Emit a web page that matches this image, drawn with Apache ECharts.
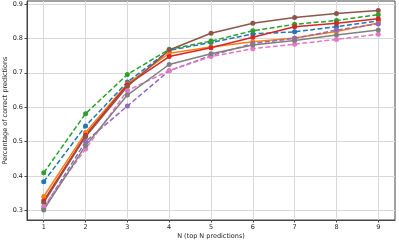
<!DOCTYPE html>
<html><head><meta charset="utf-8">
<script src="https://cdn.jsdelivr.net/npm/echarts@6/dist/echarts.min.js"></script>
<style>html,body{margin:0;padding:0;background:#fff}#c{width:399px;height:245px}</style>
</head><body><div id="c"></div>
<script>
const xValues = [1, 2, 3, 4, 5, 6, 7, 8, 9];
const xTicks = [1, 2, 3, 4, 5, 6, 7, 8, 9];
const yTicks = [0.3, 0.4, 0.5, 0.6, 0.7, 0.8, 0.9];
const xAxisName = 'N (top N predictions)';
const yAxisName = 'Percentage of correct predictions';

const blueValues   = [0.383, 0.545, 0.673, 0.765, 0.788, 0.813, 0.819, 0.834, 0.851];
const orangeValues = [0.340, 0.526, 0.668, 0.757, 0.775, 0.790, 0.801, 0.820, 0.845];
const greenValues  = [0.409, 0.581, 0.695, 0.768, 0.792, 0.822, 0.841, 0.852, 0.869];
const redValues    = [0.328, 0.518, 0.665, 0.747, 0.773, 0.803, 0.834, 0.844, 0.857];
const purpleValues = [0.305, 0.500, 0.603, 0.706, 0.750, 0.785, 0.800, 0.824, 0.842];
const brownValues  = [0.322, 0.514, 0.660, 0.766, 0.815, 0.844, 0.861, 0.872, 0.881];
const pinkValues   = [0.311, 0.478, 0.648, 0.706, 0.747, 0.770, 0.783, 0.797, 0.812];
const grayValues   = [0.301, 0.488, 0.635, 0.724, 0.755, 0.781, 0.794, 0.810, 0.824];

const seriesDefs = [
  {values: blueValues,   color: '#1f77b4', dashed: true},
  {values: orangeValues, color: '#ff7f0e', dashed: false},
  {values: greenValues,  color: '#2ca02c', dashed: true},
  {values: redValues,    color: '#d62728', dashed: false},
  {values: purpleValues, color: '#9467bd', dashed: true},
  {values: brownValues,  color: '#8c564b', dashed: false},
  {values: pinkValues,   color: '#e377c2', dashed: true},
  {values: grayValues,   color: '#7f7f7f', dashed: false}
];

const font = 'DejaVu Sans';
const chart = echarts.init(document.getElementById('c'), null, {renderer: 'canvas'});
chart.setOption({
  animation: false,
  backgroundColor: '#fff',
  grid: {left: 27, right: 4, top: 1, bottom: 25, containLabel: false, outerBoundsMode: 'none',
    show: true, borderColor: '#444', borderWidth: 1},
  xAxis: {
    type: 'value', min: 0.6, max: 9.4,
    name: xAxisName, nameLocation: 'middle', nameGap: 13, nameMoveOverlap: false,
    nameTextStyle: {fontFamily: font, fontSize: 6.5, color: '#222'},
    axisLine: {lineStyle: {color: '#444', width: 1}},
    axisTick: {show: true, length: 2.5, customValues: xTicks, lineStyle: {color: '#444'}},
    axisLabel: {customValues: xTicks, fontFamily: font, fontSize: 6.5, color: '#222', margin: 4},
    splitLine: {show: true, lineStyle: {color: '#d8d8d8', width: 1}}
  },
  yAxis: {
    type: 'value', min: 0.2717, max: 0.9087,
    name: yAxisName, nameLocation: 'middle', nameGap: 18, nameMoveOverlap: false,
    nameTextStyle: {fontFamily: font, fontSize: 6.5, color: '#222'},
    axisLine: {show: true, lineStyle: {color: '#444', width: 1}},
    axisTick: {show: true, length: 2.5, customValues: yTicks, lineStyle: {color: '#444'}},
    axisLabel: {customValues: yTicks, fontFamily: font, fontSize: 6.5, color: '#222', margin: 4,
      formatter: v => v.toFixed(1)},
    splitLine: {show: true, lineStyle: {color: '#d8d8d8', width: 1}}
  },
  series: seriesDefs.map(s => ({
    type: 'line',
    data: xValues.map((x, i) => [x, s.values[i]]),
    symbol: 'circle', symbolSize: 5,
    itemStyle: {color: s.color},
    lineStyle: {color: s.color, width: 1.5, type: s.dashed ? [5, 2.4] : 'solid'},
    emphasis: {disabled: true}
  }))
});
</script></body></html>
